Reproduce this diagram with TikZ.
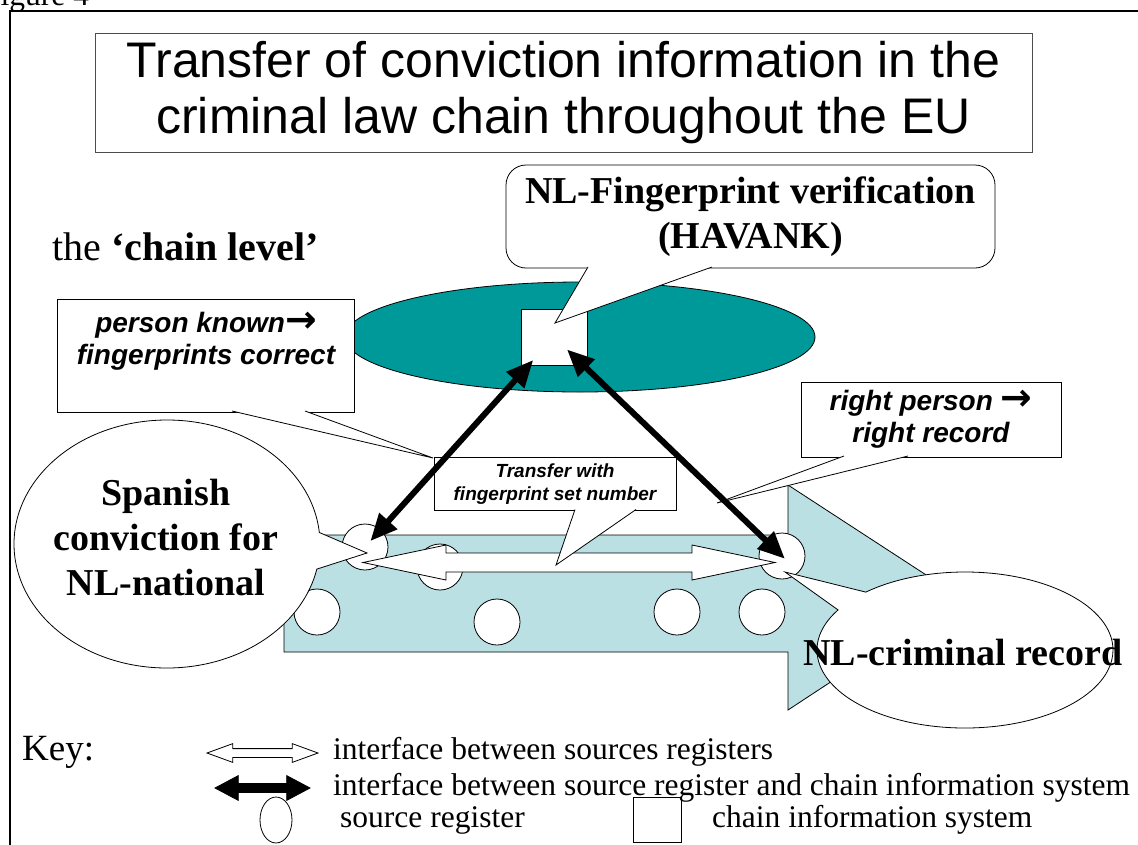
\documentclass[tikz,border=0pt]{standalone}
\usepackage{fontspec}
\usepackage{graphicx}
\setmainfont{Liberation Serif}
\setsansfont{Liberation Sans}
\newfontfamily\arrowfont{DejaVu Sans}
\usetikzlibrary{shapes,arrows.meta}
\definecolor{chainteal}{RGB}{0,153,153}
\definecolor{chainblue}{RGB}{187,224,227}
\newcommand{\thenarrow}{{\arrowfont\upshape\scalebox{1.35}{→}}}
\tikzset{%
  srcreg/.style={%
    circle,%
    draw,%
    fill=white,%
    line width=0.8pt,%
    minimum size=46pt},
  callbox/.style={%
    draw,%
    fill=white,%
    line width=0.8pt},
  bigcall/.style={%
    ellipse callout,%
    draw,%
    fill=white,%
    line width=0.8pt,%
    callout pointer arc=17},
  bigtext/.style={%
    font=\rmfamily\bfseries\fontsize{38}{45}\selectfont,%
    align=center},
  smalltext/.style={%
    font=\sffamily\bfseries\itshape\fontsize{28}{32}\selectfont,%
    align=center},
  keytext/.style={%
    font=\rmfamily\fontsize{31.5}{36}\selectfont,%
    anchor=west},
  xferarrow/.style={%
    double arrow,%
    draw,%
    fill=white,%
    line width=0.8pt},
  chainlink/.style={%
    line width=6pt,%
    <->,%
    >={Triangle[length=27pt,width=23pt]}}
}
\begin{document}
\begin{tikzpicture}[x=1pt,y=-1pt,
            every node/.style={inner sep=0pt}]
\useasboundingbox (0,0) rectangle (1138,844);
% frame and heading
\draw[line width=2pt] (10,850) -- (10,11) -- (1145,11);
\node[keytext,anchor=base west] (fig) at (-17,5) {Figure 4};
\node[draw=black!70,line width=1pt,minimum width=937pt,minimum height=119pt,
      align=center,font=\sffamily\fontsize{50}{56}\selectfont] (title)
      at (563.5,92.5) {Transfer of conviction information in the\\criminal law chain throughout the EU};
\node[anchor=base west,font=\rmfamily\fontsize{40}{46}\selectfont] (level)
      at (52,260) {the \textbf{‘chain level’}};
% chain level
\node[ellipse,draw,fill=chainteal,line width=0.8pt,
      minimum width=470pt,minimum height=110pt] (chain) at (580,337) {};
\node[draw,fill=white,line width=0.8pt,
      minimum width=66pt,minimum height=56pt] (cis) at (554,337) {};
\node[callbox,bigtext,rounded corners=20pt,
      minimum width=489pt,minimum height=103pt] (fp) at (750.5,216.5) {NL-Fingerprint verification\\(HAVANK)};
\path[callbox] (588,267) -- (555,323) -- (712,267);
\node[callbox,minimum width=297pt,minimum height=113pt] (pk) at (205.5,355.5) {};
\node[smalltext] (pktext) at (206,341) {person known\thenarrow\\fingerprints correct};
\path[callbox] (232,411) -- (433,458) -- (305,411);
% source level
\path[draw,fill=chainblue,line width=0.8pt] (284,535) -- (788,535) -- (788,485) -- (960,597)
      -- (788,710) -- (788,652) -- (284,652) -- cycle;
\node[srcreg] (s1) at (365,547) {};
\node[srcreg] (s2) at (440,567) {};
\node[srcreg] (s3) at (782,556) {};
\node[srcreg] (s4) at (317,612) {};
\node[srcreg] (s5) at (497,622) {};
\node[srcreg] (s6) at (677,612) {};
\node[srcreg] (s7) at (762,612) {};
\node[bigcall,minimum width=306pt,minimum height=248pt,
      callout absolute pointer={(367,553)}] (sp) at (167,544) {};
\node[bigtext] (sptext) at (166,537) {Spanish\\conviction for\\NL-national};
\node[bigcall,minimum width=296pt,minimum height=156pt,
      callout absolute pointer={(785,572)}] (nl) at (965,650) {};
\node[bigtext] (nltext) at (963,652) {NL-criminal record};
\path[callbox] (363,562.5) -- (446,545) -- (446,553) -- (692,553) -- (692,545) -- (775,562.5)
      -- (692,580) -- (692,572) -- (446,572) -- (446,580) -- cycle;
\node[callbox,smalltext,minimum width=260pt,minimum height=75pt] (rp)
      at (931,419.5) {right person \thenarrow\\right record};
\path[callbox] (844,456) -- (717,503) -- (908,456);
\node[callbox,font=\sffamily\bfseries\itshape\fontsize{19}{23}\selectfont,align=center,
      minimum width=242pt,minimum height=53pt] (tr) at (555,484) {Transfer with\\fingerprint set number};
\path[callbox] (575,509.5) -- (556,565) -- (636,509.5);
% chain links
\draw[chainlink,shorten <=8pt,shorten >=31pt] (s1.center) -- (cis.center);
\draw[chainlink,shorten <=18pt,shorten >=-4pt] (cis.center) -- (s3.center);
% key
\node[keytext,font=\rmfamily\fontsize{37}{42}\selectfont] (key) at (22,752) {Key:};
\node[xferarrow,minimum height=111pt,inner ysep=4pt,
      double arrow head extend=5pt,double arrow tip angle=40] (kx) at (262.5,753) {};
\node[keytext] (kxtext) at (333,752) {interface between sources registers};
\node[xferarrow,fill=black,minimum height=95pt,inner ysep=4pt,
      double arrow head extend=8pt,double arrow tip angle=56] (kc) at (262.5,788) {};
\node[keytext] (kctext) at (333,788) {interface between source register and chain information system};
\node[ellipse,draw,line width=0.8pt,minimum width=32pt,minimum height=46pt] (ks) at (276,820) {};
\node[keytext] (kstext) at (340,820) {source register};
\node[draw,line width=0.8pt,minimum width=48pt,minimum height=45pt] (kq) at (657,819.5) {};
\node[keytext] (kqtext) at (712,820) {chain information system};
\end{tikzpicture}
\end{document}
